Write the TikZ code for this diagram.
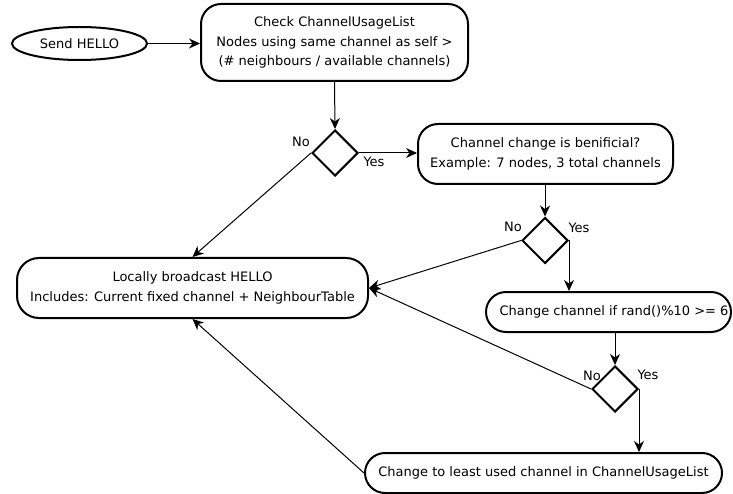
\documentclass[tikz,border=0pt]{standalone}
\usepackage{fontspec}
\setmainfont{DejaVu Sans}
\usetikzlibrary{shapes.geometric,arrows.meta}
\begin{document}
\begin{tikzpicture}[x=1pt,y=-1pt,
  font=\fontsize{13}{19.5}\selectfont,
  box/.style={draw,line width=2pt,rounded corners=20pt,align=center,inner sep=0pt},
  oval/.style={draw,ellipse,line width=2pt,inner sep=0pt},
  dec/.style={draw,diamond,line width=2pt,inner sep=0pt,minimum size=46pt},
  lbl/.style={inner sep=0pt},
  conn/.style={line width=1pt,-{Stealth[length=11pt,width=10pt,inset=3.5pt]}}]
\useasboundingbox (0,0) rectangle (733,494);
\node[oval,minimum width=135pt,minimum height=33pt] (send) at (79.5,43.5) {Send HELLO};
\node[box,minimum width=267pt,minimum height=77pt] (check) at (334.5,42.5)
  {Check ChannelUsageList\\Nodes using same channel as self >\\(\# neighbours / available channels)};
\node[dec] (d1) at (335,153) {};
\node[box,minimum width=255pt,minimum height=60pt] (benef) at (545.5,154)
  {Channel change is benificial?\\Example: 7 nodes, 3 total channels};
\node[dec] (d2) at (545,240.5) {};
\node[box,minimum width=245pt,minimum height=40pt] (rand) at (608.5,312) {};
\node[lbl] (randtxt) at (614,312) {Change channel if rand()\%10 >= 6};
\node[dec] (d3) at (615,389) {};
\node[box,minimum width=357pt,minimum height=40pt] (least) at (543.5,473)
  {Change to least used channel in ChannelUsageList};
\node[box,minimum width=351pt,minimum height=60pt,rounded corners=22pt] (loc) at (192.5,288)
  {Locally broadcast HELLO\\Includes: Current fixed channel + NeighbourTable};
\node[lbl] (no1) at (301,142) {No};
\node[lbl] (yes1) at (374,162) {Yes};
\node[lbl] (no2) at (513,227) {No};
\node[lbl] (yes2) at (579,228) {Yes};
\node[lbl] (no3) at (592,376) {No};
\node[lbl] (yes3) at (648,375) {Yes};
\draw[conn] (send.east) -- (check.west |- send.east);
\draw[conn] (check.south) -- (d1.north);
\draw[conn] (d1.east) -- (benef.west |- d1.east);
\draw[conn] (benef.south -| d2.north) -- (d2.north);
\draw[conn] (d2.east) -- (d2.east |- rand.north);
\draw[conn] (d3.north |- rand.south) -- (d3.north);
\draw[conn] (d3.east) -- (d3.east |- least.north);
\draw[conn] (d1.west) -- (loc.north);
\draw[conn] (d2.west) -- (loc.east);
\draw[conn] (d3.west) -- (loc.east);
\draw[conn] (least.west) -- (loc.south);
\end{tikzpicture}
\end{document}
